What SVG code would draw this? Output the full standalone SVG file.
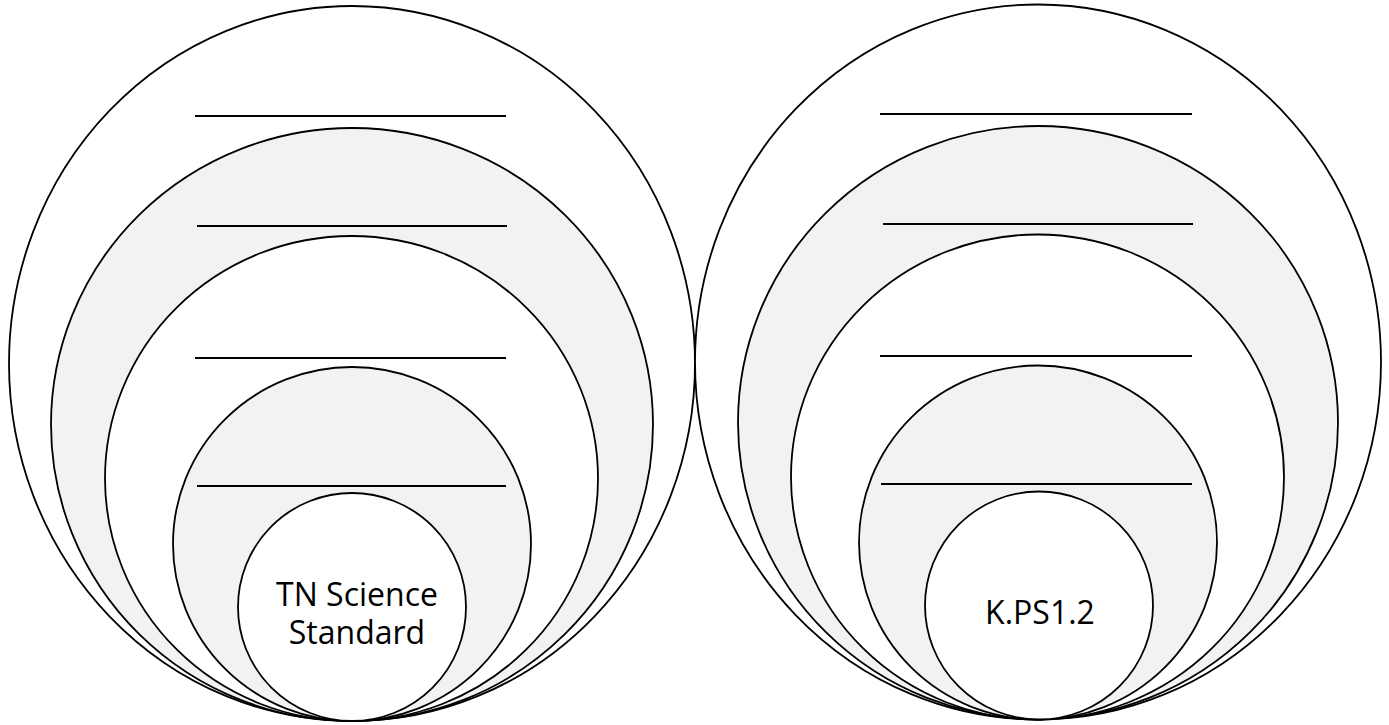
<svg xmlns="http://www.w3.org/2000/svg" width="1389" height="725" viewBox="0 0 1389 725">
  <style>
    .ring { stroke: #000; stroke-width: 1.8; }
    .light { fill: #ffffff; }
    .shade { fill: #f2f2f2; }
    .rule { stroke: #000; stroke-width: 2; fill: none; }
    .label { font-family: "Open Sans", "Noto Sans", sans-serif; font-size: 32px; fill: #000; text-anchor: middle; }
  </style>
  <rect width="1389" height="725" fill="#ffffff"/>

  <!-- Left set of nested levels -->
  <g id="left-levels">
    <g id="left-level-1">
      <ellipse class="ring light" cx="352" cy="363.5" rx="343" ry="357.5"/>
      <line class="rule" x1="195" y1="116" x2="506" y2="116"/>
    </g>
    <g id="left-level-2">
      <ellipse class="ring shade" cx="352" cy="424.5" rx="301" ry="296.5"/>
      <line class="rule" x1="197" y1="226" x2="507" y2="226"/>
    </g>
    <g id="left-level-3">
      <ellipse class="ring light" cx="351.5" cy="478.5" rx="246.5" ry="242.5"/>
      <line class="rule" x1="195" y1="358" x2="506" y2="358"/>
    </g>
    <g id="left-level-4">
      <ellipse class="ring shade" cx="352" cy="544" rx="179" ry="177"/>
      <line class="rule" x1="197" y1="486" x2="506" y2="486"/>
    </g>
    <g id="left-core">
      <ellipse class="ring light" cx="352" cy="607" rx="114" ry="114"/>
      <text class="label" x="357" y="606">TN Science</text>
      <text class="label" x="357" y="644">Standard</text>
    </g>
  </g>

  <!-- Right set of nested levels -->
  <g id="right-levels">
    <g id="right-level-1">
      <ellipse class="ring light" cx="1038" cy="362" rx="343" ry="357.5"/>
      <line class="rule" x1="880" y1="114" x2="1192" y2="114"/>
    </g>
    <g id="right-level-2">
      <ellipse class="ring shade" cx="1038" cy="422.5" rx="300" ry="296.5"/>
      <line class="rule" x1="883" y1="224" x2="1193" y2="224"/>
    </g>
    <g id="right-level-3">
      <ellipse class="ring light" cx="1037.5" cy="477" rx="246.5" ry="242.5"/>
      <line class="rule" x1="880" y1="356" x2="1192" y2="356"/>
    </g>
    <g id="right-level-4">
      <ellipse class="ring shade" cx="1038" cy="542.5" rx="179" ry="177"/>
      <line class="rule" x1="881" y1="484" x2="1192" y2="484"/>
    </g>
    <g id="right-core">
      <ellipse class="ring light" cx="1039" cy="605.5" rx="114" ry="114"/>
      <text class="label" x="1040" y="624">K.PS1.2</text>
    </g>
  </g>
</svg>
